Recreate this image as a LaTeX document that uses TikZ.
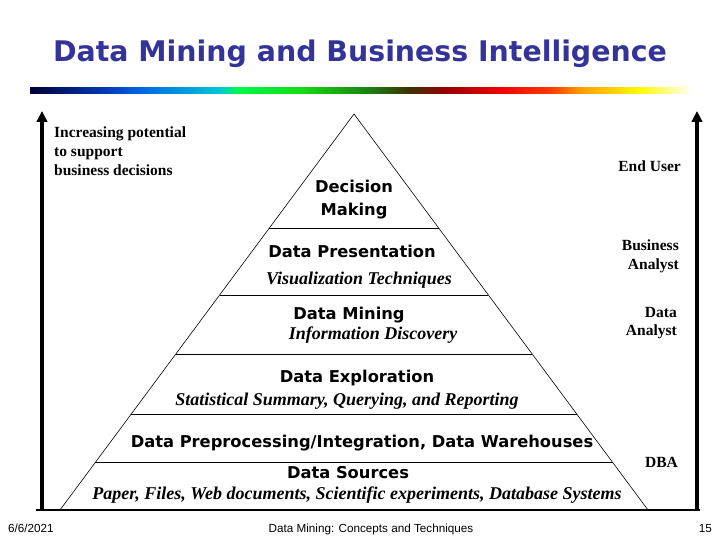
\documentclass[tikz,border=0pt]{standalone}
\usepackage{fontspec}
\usepackage{graphicx}
\usetikzlibrary{calc,arrows.meta}
\setmainfont{Liberation Serif}
\newfontfamily\dvsans{DejaVu Sans}
\newfontfamily\footsans{Liberation Sans}
\definecolor{titleblue}{RGB}{51,51,153}
\definecolor{gA}{RGB}{0,0,50}
\definecolor{gB}{RGB}{0,60,190}
\definecolor{gC}{RGB}{0,100,230}
\definecolor{gD}{RGB}{0,200,210}
\definecolor{gE}{RGB}{0,250,80}
\definecolor{gF}{RGB}{20,220,20}
\definecolor{gG}{RGB}{30,120,20}
\definecolor{gH}{RGB}{60,50,0}
\definecolor{gI}{RGB}{150,0,0}
\definecolor{gJ}{RGB}{240,0,0}
\definecolor{gK}{RGB}{250,60,0}
\definecolor{gL}{RGB}{255,160,0}
\definecolor{gM}{RGB}{255,250,0}
\pgfdeclarehorizontalshading{rainbowbar}{100bp}{color(0bp)=(gA); color(25bp)=(gA); color(31.04bp)=(gB); color(33.31bp)=(gC); color(39.35bp)=(gD); color(40.63bp)=(gE); color(45.39bp)=(gF); color(50.98bp)=(gG); color(53.63bp)=(gH); color(56.34bp)=(gI); color(60.5bp)=(gJ); color(64.35bp)=(gK); color(66.69bp)=(gL); color(70.99bp)=(gM); color(75bp)=(white); color(100bp)=(white)}
\tikzset{
  titletext/.style={font=\dvsans\bfseries\fontsize{28.4}{32}\selectfont, text=titleblue, anchor=base, inner sep=0pt},
  layer/.style={font=\dvsans\bfseries\fontsize{16.3}{19}\selectfont, anchor=base, inner sep=0pt},
  layersub/.style={font=\bfseries\itshape\fontsize{18}{21}\selectfont, anchor=base, inner sep=0pt},
  role/.style={font=\bfseries\fontsize{15.5}{18}\selectfont, anchor=base east, inner sep=0pt},
  sidenote/.style={font=\bfseries\fontsize{15.5}{18}\selectfont, anchor=base west, inner sep=0pt},
  foot/.style={font=\footsans\fontsize{11.7}{14}\selectfont, anchor=base, inner sep=0pt},
  sidearrow/.style={line width=3.6pt, -{Triangle[length=11pt,width=10.5pt]}},
  tri/.style={line width=0.6pt},
  sepline/.style={line width=1pt},
  groundline/.style={line width=1.3pt}
}
\begin{document}
\begin{tikzpicture}[x=1pt,y=-1pt]
\useasboundingbox (0,0) rectangle (720,540);
% title and bar
\node[titletext] (title) at (360,62) {Data Mining and Business Intelligence};
\fill[shading=rainbowbar] (30,88) rectangle (692,94);
% coordinates
\coordinate (apex) at (354,114);
\coordinate (bl) at (60,510);
\coordinate (br) at (648,510);
\coordinate (groundL) at (36,510);
\coordinate (groundR) at (700,510);
\coordinate (leftFoot) at (42,510);
\coordinate (leftTip) at (42,111);
\coordinate (rightFoot) at (697,510);
\coordinate (rightTip) at (697,111);
% side arrows and ground
\draw[groundline] (groundL) -- (groundR);
\draw[sidearrow] (leftFoot) -- (leftTip);
\draw[sidearrow] (rightFoot) -- (rightTip);
% pyramid
\draw[tri] (bl) -- (apex) -- (br);
\foreach \t/\n in {0.2879/a,0.4571/b,0.6061/c,0.7576/d,0.8813/e}{
  \coordinate (sepL\n) at ($(apex)!\t!(bl)$);
  \coordinate (sepR\n) at ($(apex)!\t!(br)$);
  \draw[sepline] (sepL\n) -- (sepR\n);
}
% layer texts
\node[layer] (decA) at (354,193) {Decision};
\node[layer] (decB) at (354,215) {Making};
\node[layer] (pres) at (352,257) {Data Presentation};
\node[layersub] (presS) at (359,284) {Visualization Techniques};
\node[layer] (mine) at (349,319) {Data Mining};
\node[layersub] (mineS) at (373,339) {Information Discovery};
\node[layer] (expl) at (357,382) {Data Exploration};
\node[layersub] (explS) at (347,405) {Statistical Summary, Querying, and Reporting};
\node[layer] (prep) at (362,447) {Data Preprocessing/Integration, Data Warehouses};
\node[layer] (src) at (348,478) {Data Sources};
\node[layersub] (srcS) at (357,499) {Paper, Files, Web documents, Scientific experiments, Database Systems};
% left note
\node[sidenote] (noteA) at (54,138) {Increasing potential};
\node[sidenote] (noteB) at (54,157) {to support};
\node[sidenote] (noteC) at (54,176) {business decisions};
% roles
\node[role] (endu) at (681,172) {End User};
\node[role] (busA) at (679,250) {Business};
\node[role] (busB) at (679,269) {Analyst};
\node[role] (datA) at (677,317) {Data};
\node[role] (datB) at (677,335) {Analyst};
\node[role] (dba) at (678,467) {DBA};
% footer
\node[foot, anchor=base west] (date) at (8,532) {6/6/2021};
\node[foot] (course) at (371,532) {Data Mining: Concepts and Techniques};
\node[foot, anchor=base east] (page) at (712,532) {15};
\end{tikzpicture}
\end{document}
